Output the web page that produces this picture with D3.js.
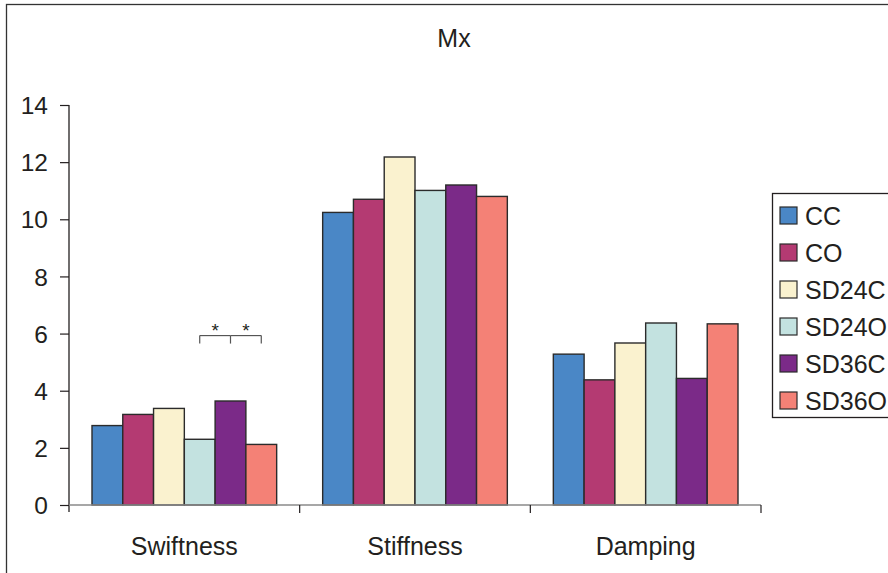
<!DOCTYPE html>
<html>
<head>
<meta charset="utf-8">
<script src="https://cdn.jsdelivr.net/npm/d3@7"></script>
<style>
  html, body { margin: 0; padding: 0; background: #fff; }
  svg { display: block; }
  text { font-family: "Liberation Sans", Arial, Helvetica, sans-serif; fill: #231f20; }
</style>
</head>
<body>
<svg id="chart" width="888" height="573"></svg>
<script>
// Mx parameters per group
const categories = ["Swiftness", "Stiffness", "Damping"];
const seriesNames = ["CC", "CO", "SD24C", "SD24O", "SD36C", "SD36O"];
const seriesColors = ["#4a87c6", "#b43a72", "#faf2cf", "#c3e2e0", "#7b2a88", "#f48176"];
const ccValues    = [2.78, 10.24, 5.28];
const coValues    = [3.17, 10.70, 4.38];
const sd24cValues = [3.38, 12.18, 5.67];
const sd24oValues = [2.30, 11.01, 6.37];
const sd36cValues = [3.64, 11.20, 4.43];
const sd36oValues = [2.12, 10.80, 6.34];
const yTicks = [0, 2, 4, 6, 8, 10, 12, 14];
// significant pairwise differences within Swiftness
const sigPairs = [["SD24O", "SD36C"], ["SD36C", "SD36O"]];
const sigLevel = 5.93;
const sigCategory = "Swiftness";

const seriesValues = [ccValues, coValues, sd24cValues, sd24oValues, sd36cValues, sd36oValues];

const svg = d3.select("#chart");

// outer frame
svg.append("rect")
  .attr("x", 6.5).attr("y", 4.5)
  .attr("width", 900).attr("height", 600)
  .attr("fill", "none").attr("stroke", "#333").attr("stroke-width", 1.3);

const x0 = d3.scaleBand().domain(categories).range([69, 761]).paddingInner(0).paddingOuter(0);
const groupPad = 23;
const x1 = d3.scaleBand().domain(seriesNames).range([groupPad, x0.bandwidth() - groupPad]).padding(0);
const y = d3.scaleLinear().domain([0, 14]).range([505, 105]);
const color = d3.scaleOrdinal().domain(seriesNames).range(seriesColors);

// title
svg.append("text")
  .attr("x", 454).attr("y", 47)
  .attr("text-anchor", "middle")
  .attr("font-size", 25)
  .text("Mx");

// bars
const groups = svg.append("g").selectAll("g")
  .data(categories)
  .join("g")
  .attr("transform", d => `translate(${x0(d)},0)`);

groups.selectAll("rect")
  .data((c, ci) => seriesNames.map((s, si) => ({ s, v: seriesValues[si][ci] })))
  .join("rect")
  .attr("x", d => x1(d.s))
  .attr("y", d => y(d.v))
  .attr("width", x1.bandwidth())
  .attr("height", d => y(0) - y(d.v))
  .attr("fill", d => color(d.s))
  .attr("stroke", "#2b2b2b")
  .attr("stroke-width", 1.4);

// y axis
const yAxis = d3.axisLeft(y).tickValues(yTicks).tickSize(9).tickSizeOuter(0).tickPadding(12);
const gy = svg.append("g").attr("transform", "translate(69,0)").call(yAxis);
gy.select(".domain").remove();
gy.append("line")
  .attr("x1", 0).attr("x2", 0)
  .attr("y1", y(14)).attr("y2", y(0) + 7)
  .attr("stroke", "#231f20").attr("stroke-width", 1.3);
gy.selectAll(".tick line").attr("stroke", "#231f20").attr("stroke-width", 1.2);
gy.selectAll(".tick text")
  .attr("font-size", 24.5)
  .attr("fill", "#231f20")
  .attr("font-family", "'Liberation Sans', Arial, sans-serif")
  .attr("dy", "0.35em");

// x axis baseline, boundary ticks and category labels
svg.append("line")
  .attr("x1", 69).attr("x2", 761)
  .attr("y1", y(0)).attr("y2", y(0))
  .attr("stroke", "#8a8a8a").attr("stroke-width", 1.5);
const bounds = categories.slice(1).map(c => x0(c)).concat([x0(categories[categories.length - 1]) + x0.bandwidth()]);
svg.append("g").selectAll("line")
  .data(bounds)
  .join("line")
  .attr("x1", d => d).attr("x2", d => d)
  .attr("y1", y(0)).attr("y2", y(0) + 8)
  .attr("stroke", "#231f20").attr("stroke-width", 1.2);
svg.append("g").selectAll("text")
  .data(categories)
  .join("text")
  .attr("x", d => x0(d) + x0.bandwidth() / 2)
  .attr("y", 555)
  .attr("text-anchor", "middle")
  .attr("font-size", 25)
  .text(d => d);

// significance brackets
const sigG = svg.append("g").attr("transform", `translate(${x0(sigCategory)},0)`);
const cx = s => x1(s) + x1.bandwidth() / 2;
const yb = y(sigLevel);
sigPairs.forEach(([a, b]) => {
  sigG.append("line")
    .attr("x1", cx(a)).attr("x2", cx(b))
    .attr("y1", yb).attr("y2", yb)
    .attr("stroke", "#555").attr("stroke-width", 1.2);
  sigG.append("text")
    .attr("x", (cx(a) + cx(b)) / 2)
    .attr("y", yb + 1)
    .attr("text-anchor", "middle")
    .attr("font-size", 19)
    .text("*");
});
const endpoints = Array.from(new Set(sigPairs.flat()));
sigG.selectAll("line.tick")
  .data(endpoints)
  .join("line")
  .attr("class", "tick")
  .attr("x1", d => cx(d)).attr("x2", d => cx(d))
  .attr("y1", yb).attr("y2", yb + 8)
  .attr("stroke", "#555").attr("stroke-width", 1.2);

// legend
const lg = svg.append("g");
lg.append("rect")
  .attr("x", 772.5).attr("y", 193.5)
  .attr("width", 140).attr("height", 224)
  .attr("fill", "#fff").attr("stroke", "#231f20").attr("stroke-width", 1.3);
const items = lg.selectAll("g.item")
  .data(seriesNames)
  .join("g")
  .attr("class", "item")
  .attr("transform", (d, i) => `translate(780,${207 + i * 37})`);
items.append("rect")
  .attr("width", 17).attr("height", 17)
  .attr("fill", d => color(d))
  .attr("stroke", "#2b2b2b").attr("stroke-width", 1.2);
items.append("text")
  .attr("x", 25).attr("y", 17.5)
  .attr("font-size", 25)
  .text(d => d);
</script>
</body>
</html>
